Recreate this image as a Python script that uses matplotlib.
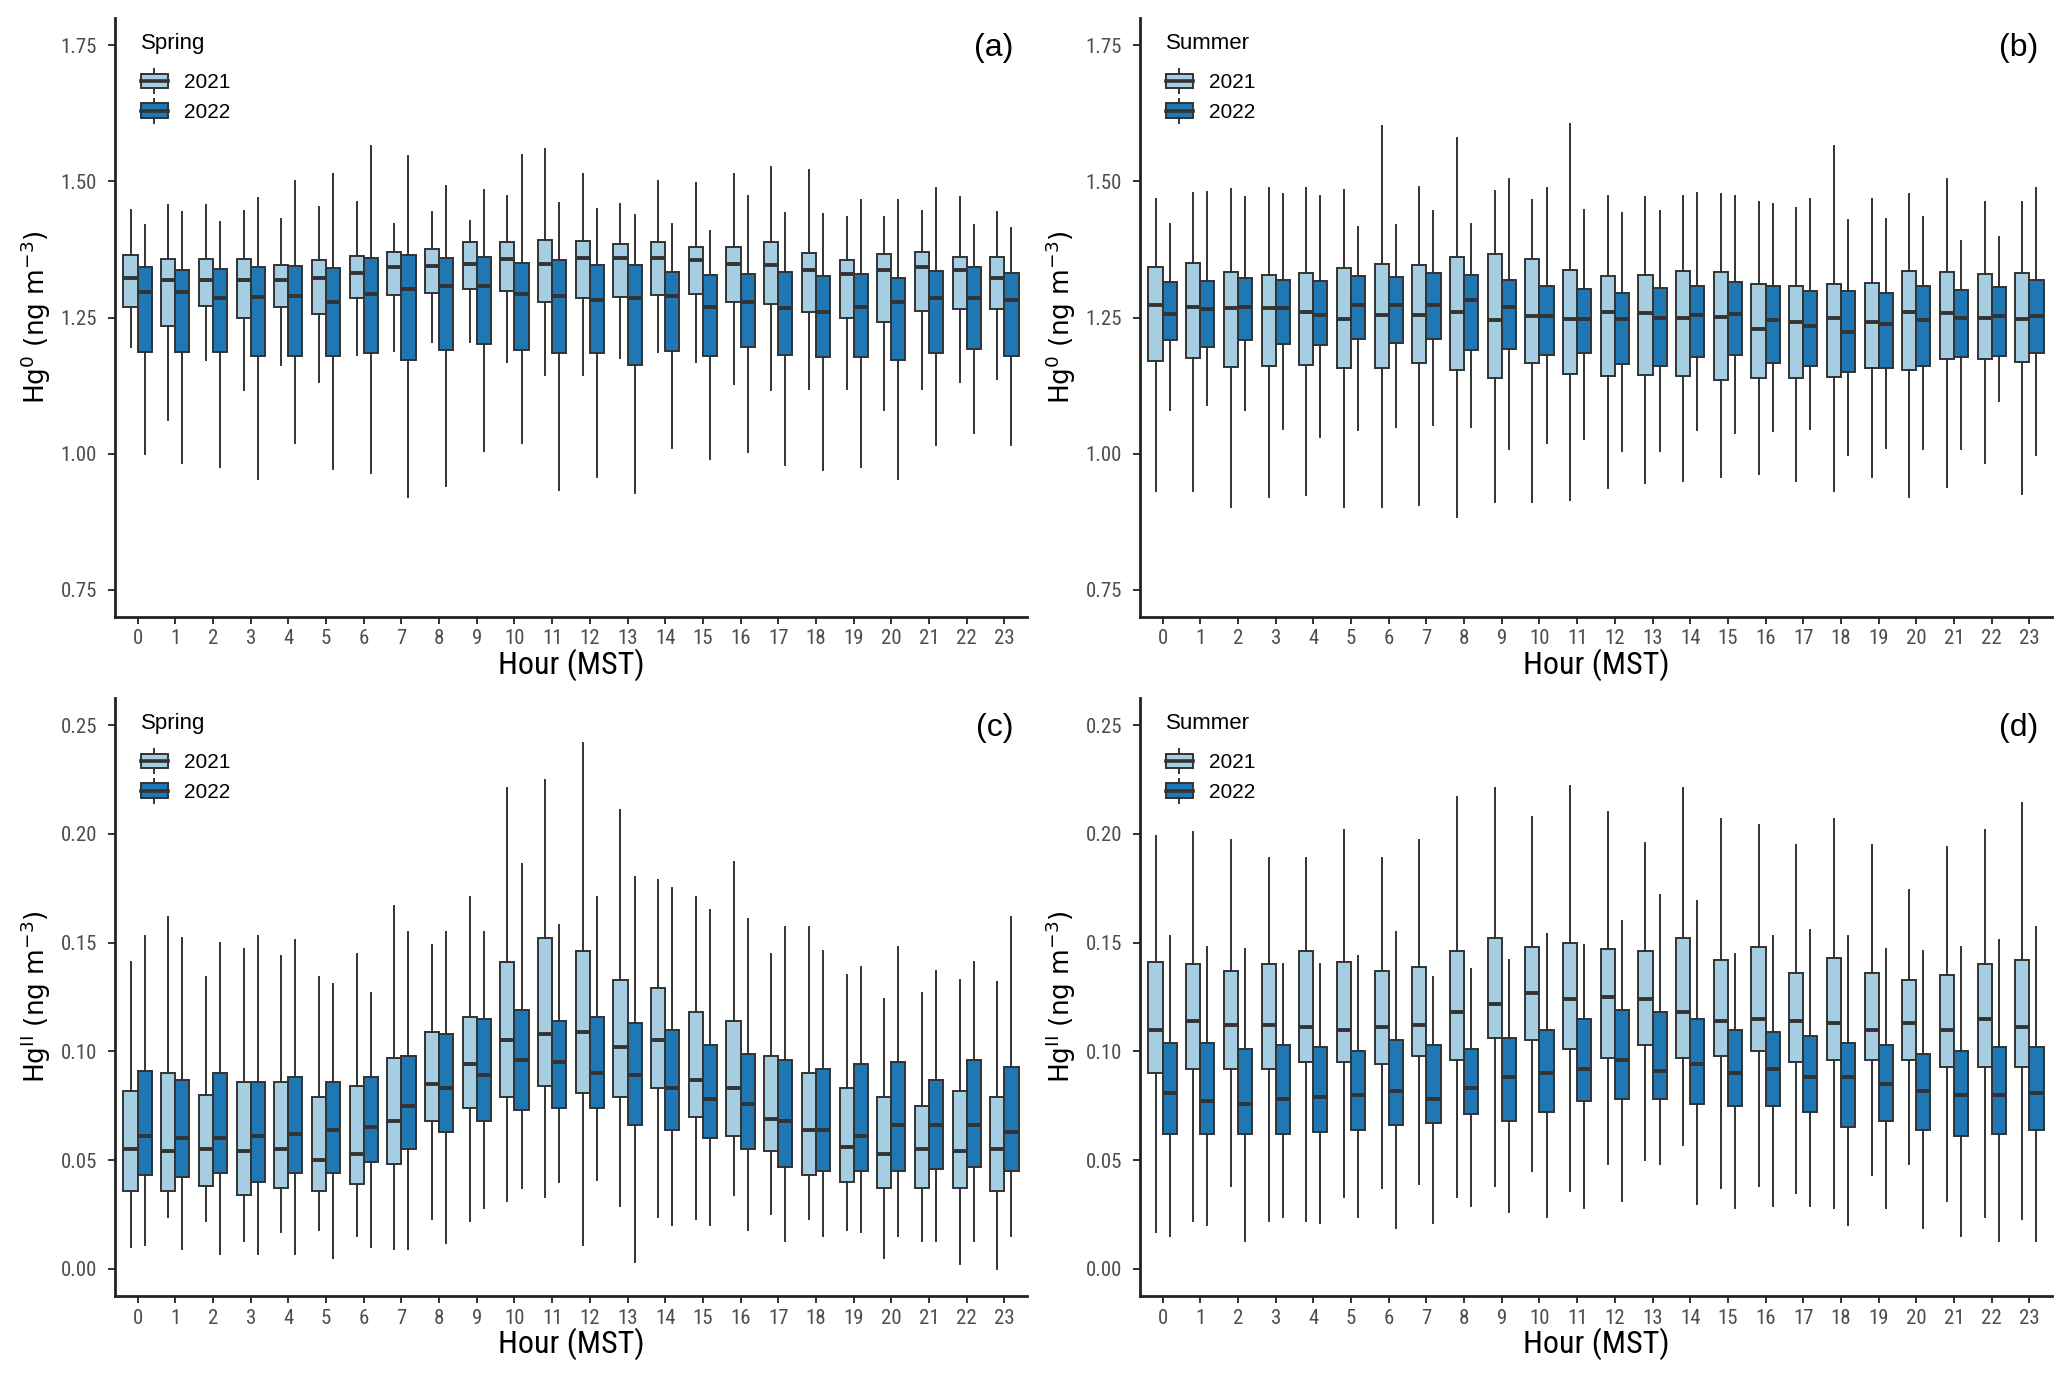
import numpy as np
import matplotlib
matplotlib.use("Agg")
import matplotlib.pyplot as plt
from matplotlib.patches import Rectangle, Patch
from matplotlib.lines import Line2D
from matplotlib.legend_handler import HandlerBase

plt.rcParams['font.family'] = ['Liberation Sans', 'DejaVu Sans']
plt.rcParams['mathtext.fontset'] = 'dejavusans'
plt.rcParams['mathtext.default'] = 'regular'

hours = list(range(24))
years = ['2021', '2022']

# each row: whisker low, q1, median, q3, whisker high
spring_hg0_2021 = [
    [1.195, 1.270, 1.323, 1.365, 1.448], [1.061, 1.235, 1.319, 1.357, 1.456],
    [1.172, 1.272, 1.319, 1.357, 1.457], [1.117, 1.250, 1.319, 1.357, 1.446],
    [1.163, 1.270, 1.319, 1.347, 1.430], [1.132, 1.256, 1.323, 1.355, 1.453],
    [1.182, 1.285, 1.331, 1.363, 1.462], [1.189, 1.292, 1.342, 1.370, 1.421],
    [1.205, 1.295, 1.345, 1.376, 1.443], [1.205, 1.302, 1.349, 1.389, 1.428],
    [1.169, 1.299, 1.357, 1.388, 1.474], [1.144, 1.278, 1.349, 1.393, 1.560],
    [1.144, 1.285, 1.359, 1.391, 1.513], [1.175, 1.288, 1.359, 1.385, 1.459],
    [1.187, 1.291, 1.359, 1.388, 1.500], [1.168, 1.294, 1.355, 1.380, 1.497],
    [1.128, 1.278, 1.349, 1.380, 1.514], [1.116, 1.274, 1.346, 1.388, 1.526],
    [1.118, 1.261, 1.338, 1.369, 1.521], [1.118, 1.250, 1.329, 1.355, 1.435],
    [1.080, 1.242, 1.337, 1.367, 1.435], [1.118, 1.262, 1.342, 1.370, 1.446],
    [1.132, 1.266, 1.338, 1.361, 1.472], [1.137, 1.266, 1.323, 1.361, 1.444],
]
spring_hg0_2022 = [
    [0.999, 1.187, 1.296, 1.342, 1.420], [0.983, 1.187, 1.296, 1.338, 1.444],
    [0.976, 1.187, 1.286, 1.339, 1.426], [0.953, 1.179, 1.288, 1.343, 1.470],
    [1.019, 1.179, 1.290, 1.345, 1.500], [0.972, 1.179, 1.279, 1.341, 1.514],
    [0.964, 1.185, 1.294, 1.359, 1.565], [0.921, 1.172, 1.303, 1.365, 1.546],
    [0.940, 1.190, 1.308, 1.360, 1.491], [1.004, 1.201, 1.308, 1.361, 1.485],
    [1.019, 1.191, 1.294, 1.351, 1.548], [0.934, 1.184, 1.290, 1.355, 1.461],
    [0.958, 1.184, 1.282, 1.346, 1.450], [0.927, 1.162, 1.286, 1.347, 1.438],
    [1.011, 1.188, 1.290, 1.333, 1.422], [0.991, 1.180, 1.270, 1.328, 1.408],
    [1.003, 1.195, 1.278, 1.330, 1.474], [0.980, 1.182, 1.268, 1.334, 1.442],
    [0.970, 1.177, 1.261, 1.327, 1.440], [0.976, 1.177, 1.270, 1.329, 1.465],
    [0.954, 1.172, 1.278, 1.323, 1.465], [1.015, 1.184, 1.286, 1.335, 1.487],
    [1.037, 1.192, 1.286, 1.343, 1.420], [1.015, 1.180, 1.282, 1.331, 1.414],
]
summer_hg0_2021 = [
    [0.931, 1.170, 1.273, 1.342, 1.468], [0.931, 1.176, 1.270, 1.350, 1.478],
    [0.902, 1.160, 1.267, 1.333, 1.486], [0.920, 1.161, 1.267, 1.328, 1.488],
    [0.924, 1.162, 1.261, 1.332, 1.488], [0.902, 1.158, 1.247, 1.341, 1.484],
    [0.902, 1.158, 1.255, 1.348, 1.602], [0.906, 1.166, 1.255, 1.346, 1.490],
    [0.884, 1.153, 1.261, 1.361, 1.580], [0.911, 1.139, 1.246, 1.366, 1.482],
    [0.911, 1.166, 1.253, 1.357, 1.466], [0.914, 1.146, 1.248, 1.338, 1.606],
    [0.937, 1.142, 1.261, 1.327, 1.474], [0.946, 1.145, 1.259, 1.328, 1.471],
    [0.950, 1.142, 1.250, 1.336, 1.473], [0.958, 1.135, 1.251, 1.334, 1.476],
    [0.963, 1.138, 1.229, 1.311, 1.462], [0.949, 1.138, 1.241, 1.307, 1.452],
    [0.931, 1.141, 1.249, 1.312, 1.565], [0.957, 1.157, 1.241, 1.314, 1.468],
    [0.920, 1.154, 1.261, 1.336, 1.476], [0.938, 1.173, 1.259, 1.334, 1.504],
    [0.983, 1.174, 1.250, 1.330, 1.462], [0.926, 1.168, 1.247, 1.332, 1.462],
]
summer_hg0_2022 = [
    [1.080, 1.209, 1.256, 1.316, 1.421], [1.089, 1.196, 1.265, 1.317, 1.480],
    [1.081, 1.209, 1.270, 1.322, 1.471], [1.046, 1.202, 1.267, 1.318, 1.477],
    [1.030, 1.199, 1.255, 1.317, 1.473], [1.044, 1.211, 1.273, 1.326, 1.416],
    [1.048, 1.203, 1.273, 1.324, 1.419], [1.052, 1.211, 1.273, 1.332, 1.446],
    [1.048, 1.190, 1.283, 1.328, 1.421], [1.008, 1.192, 1.270, 1.319, 1.504],
    [1.019, 1.182, 1.253, 1.308, 1.487], [1.026, 1.184, 1.247, 1.302, 1.447],
    [1.004, 1.164, 1.247, 1.295, 1.442], [1.004, 1.161, 1.250, 1.304, 1.445],
    [1.044, 1.177, 1.255, 1.307, 1.478], [1.038, 1.181, 1.256, 1.315, 1.473],
    [1.042, 1.166, 1.245, 1.307, 1.458], [1.046, 1.161, 1.234, 1.299, 1.468],
    [0.997, 1.150, 1.223, 1.299, 1.429], [1.011, 1.158, 1.238, 1.295, 1.431],
    [1.008, 1.161, 1.245, 1.307, 1.434], [1.008, 1.177, 1.249, 1.300, 1.391],
    [1.096, 1.180, 1.253, 1.306, 1.397], [0.997, 1.184, 1.253, 1.319, 1.488],
]
spring_hg2_2021 = [
    [0.010, 0.036, 0.055, 0.082, 0.141], [0.024, 0.036, 0.054, 0.090, 0.162],
    [0.022, 0.038, 0.055, 0.080, 0.134], [0.013, 0.034, 0.054, 0.086, 0.147],
    [0.017, 0.037, 0.055, 0.086, 0.144], [0.018, 0.036, 0.050, 0.079, 0.134],
    [0.015, 0.039, 0.053, 0.084, 0.145], [0.009, 0.048, 0.068, 0.097, 0.167],
    [0.023, 0.068, 0.085, 0.109, 0.149], [0.022, 0.074, 0.094, 0.116, 0.171],
    [0.031, 0.079, 0.105, 0.141, 0.221], [0.033, 0.084, 0.108, 0.152, 0.225],
    [0.011, 0.081, 0.109, 0.146, 0.242], [0.029, 0.079, 0.102, 0.133, 0.211],
    [0.024, 0.083, 0.105, 0.129, 0.179], [0.023, 0.070, 0.087, 0.118, 0.171],
    [0.034, 0.061, 0.083, 0.114, 0.187], [0.025, 0.054, 0.069, 0.098, 0.145],
    [0.023, 0.043, 0.064, 0.090, 0.157], [0.018, 0.040, 0.056, 0.083, 0.135],
    [0.005, 0.037, 0.053, 0.079, 0.124], [0.013, 0.037, 0.055, 0.075, 0.127],
    [0.002, 0.037, 0.054, 0.082, 0.133], [0.000, 0.036, 0.055, 0.079, 0.132],
]
spring_hg2_2022 = [
    [0.011, 0.043, 0.061, 0.091, 0.153], [0.009, 0.042, 0.060, 0.087, 0.152],
    [0.007, 0.044, 0.060, 0.090, 0.150], [0.007, 0.040, 0.061, 0.086, 0.153],
    [0.007, 0.044, 0.062, 0.088, 0.151], [0.005, 0.044, 0.064, 0.086, 0.131],
    [0.010, 0.049, 0.065, 0.088, 0.127], [0.009, 0.055, 0.075, 0.098, 0.155],
    [0.012, 0.063, 0.083, 0.108, 0.155], [0.028, 0.068, 0.089, 0.115, 0.155],
    [0.037, 0.073, 0.096, 0.119, 0.186], [0.040, 0.074, 0.095, 0.114, 0.158],
    [0.041, 0.074, 0.090, 0.116, 0.171], [0.003, 0.066, 0.089, 0.113, 0.180],
    [0.020, 0.064, 0.083, 0.110, 0.175], [0.020, 0.060, 0.078, 0.103, 0.165],
    [0.018, 0.055, 0.076, 0.099, 0.161], [0.013, 0.047, 0.068, 0.096, 0.157],
    [0.015, 0.045, 0.064, 0.092, 0.146], [0.017, 0.045, 0.061, 0.094, 0.139],
    [0.015, 0.045, 0.066, 0.095, 0.148], [0.013, 0.046, 0.066, 0.087, 0.137],
    [0.013, 0.047, 0.066, 0.096, 0.141], [0.015, 0.045, 0.063, 0.093, 0.162],
]
summer_hg2_2021 = [
    [0.017, 0.090, 0.110, 0.141, 0.199], [0.022, 0.092, 0.114, 0.140, 0.201],
    [0.038, 0.092, 0.112, 0.137, 0.197], [0.022, 0.092, 0.112, 0.140, 0.189],
    [0.022, 0.095, 0.111, 0.146, 0.189], [0.033, 0.095, 0.110, 0.141, 0.202],
    [0.037, 0.094, 0.111, 0.137, 0.189], [0.039, 0.098, 0.112, 0.139, 0.197],
    [0.033, 0.096, 0.118, 0.146, 0.217], [0.038, 0.106, 0.122, 0.152, 0.221],
    [0.045, 0.105, 0.127, 0.148, 0.208], [0.036, 0.101, 0.124, 0.150, 0.222],
    [0.048, 0.097, 0.125, 0.147, 0.210], [0.050, 0.103, 0.124, 0.146, 0.196],
    [0.057, 0.097, 0.118, 0.152, 0.221], [0.037, 0.098, 0.114, 0.142, 0.207],
    [0.038, 0.100, 0.115, 0.148, 0.204], [0.035, 0.095, 0.114, 0.136, 0.195],
    [0.028, 0.096, 0.113, 0.143, 0.207], [0.043, 0.096, 0.110, 0.136, 0.195],
    [0.048, 0.096, 0.113, 0.133, 0.174], [0.031, 0.093, 0.110, 0.135, 0.194],
    [0.024, 0.093, 0.115, 0.140, 0.202], [0.023, 0.093, 0.111, 0.142, 0.214],
]
summer_hg2_2022 = [
    [0.015, 0.062, 0.081, 0.104, 0.153], [0.020, 0.062, 0.077, 0.104, 0.148],
    [0.013, 0.062, 0.076, 0.101, 0.147], [0.024, 0.062, 0.078, 0.103, 0.140],
    [0.021, 0.063, 0.079, 0.102, 0.140], [0.024, 0.064, 0.080, 0.100, 0.144],
    [0.019, 0.066, 0.082, 0.105, 0.155], [0.021, 0.067, 0.078, 0.103, 0.134],
    [0.029, 0.071, 0.083, 0.101, 0.138], [0.026, 0.068, 0.088, 0.106, 0.142],
    [0.024, 0.072, 0.090, 0.110, 0.154], [0.028, 0.077, 0.092, 0.115, 0.149],
    [0.031, 0.078, 0.096, 0.119, 0.160], [0.048, 0.078, 0.091, 0.118, 0.172],
    [0.030, 0.076, 0.094, 0.115, 0.169], [0.028, 0.075, 0.090, 0.110, 0.145],
    [0.029, 0.075, 0.092, 0.109, 0.153], [0.029, 0.072, 0.088, 0.107, 0.156],
    [0.020, 0.065, 0.088, 0.104, 0.153], [0.028, 0.068, 0.085, 0.103, 0.147],
    [0.019, 0.064, 0.082, 0.099, 0.146], [0.015, 0.061, 0.080, 0.100, 0.148],
    [0.013, 0.062, 0.080, 0.102, 0.151], [0.013, 0.064, 0.081, 0.102, 0.157],
]

hg0_ticks = [0.75, 1.00, 1.25, 1.50, 1.75]
hg2_ticks = [0.00, 0.05, 0.10, 0.15, 0.20, 0.25]

C21 = '#a6cee3'
C22 = '#1f78b4'
EDGE = '#333333'
NARROW = ['Roboto Condensed', 'Liberation Sans']


class BoxKey(HandlerBase):
    # little ggplot-style boxplot glyph for the legend
    def create_artists(self, legend, orig_handle, xdescent, ydescent,
                       width, height, fontsize, trans):
        x0, y0 = -xdescent, -ydescent
        fc = orig_handle.get_facecolor()
        rect = Rectangle((x0, y0 + 0.1 * height), width, 0.8 * height,
                         facecolor=fc, edgecolor=EDGE, lw=1.4, transform=trans)
        mid = y0 + 0.5 * height
        med = Line2D([x0, x0 + width], [mid, mid], color=EDGE, lw=2.6, transform=trans)
        xc = x0 + width / 2
        wt = Line2D([xc, xc], [y0 + 0.9 * height, y0 + 1.15 * height], color=EDGE, lw=1.4, transform=trans)
        wb = Line2D([xc, xc], [y0 + 0.1 * height, y0 - 0.15 * height], color=EDGE, lw=1.4, transform=trans)
        return [rect, med, wt, wb]


def draw_panel(ax, d21, d22, ticks, ylab, season, tag):
    pos = np.array(hours, dtype=float)
    for rows, off, col in [(d21, -0.1875, C21), (d22, 0.1875, C22)]:
        stats = [dict(whislo=r[0], q1=r[1], med=r[2], q3=r[3], whishi=r[4]) for r in rows]
        ax.bxp(stats, positions=pos + off, widths=0.375, showfliers=False,
               showcaps=False, patch_artist=True, manage_ticks=False,
               boxprops=dict(facecolor=col, edgecolor=EDGE, lw=1.4),
               medianprops=dict(color=EDGE, lw=2.8, solid_capstyle='butt'),
               whiskerprops=dict(color=EDGE, lw=1.4))
    lo, hi = ticks[0], ticks[-1]
    pad = (hi - lo) * 0.05
    ax.set_ylim(lo - pad, hi + pad)
    ax.set_xlim(-0.6, 23.6)
    ax.set_yticks(ticks)
    ax.set_yticklabels(['%.2f' % t for t in ticks], family=NARROW)
    ax.set_xticks(hours)
    ax.set_xticklabels([str(h) for h in hours], family=NARROW)
    ax.tick_params(labelsize=15, colors='#333333', length=5, width=1.4, labelcolor='#4d4d4d')
    ax.tick_params(axis='y', pad=8)
    ax.tick_params(axis='x', pad=4)
    for s in ['top', 'right']:
        ax.spines[s].set_visible(False)
    for s in ['left', 'bottom']:
        ax.spines[s].set_linewidth(2.0)
        ax.spines[s].set_color('#222222')
    ax.set_xlabel('Hour (MST)', fontsize=23, family=NARROW)
    ax.set_ylabel(ylab, fontsize=19, family=['DejaVu Sans'])
    ax.yaxis.set_label_coords(-0.068, 0.5)
    ax.xaxis.set_label_coords(0.5, -0.052)
    handles = [Patch(facecolor=C21, label=years[0]), Patch(facecolor=C22, label=years[1])]
    leg = ax.legend(handles=handles, title=season, loc='upper left',
                    bbox_to_anchor=(0.012, 1.0), frameon=False, fontsize=15,
                    title_fontsize=16, handler_map={Patch: BoxKey()},
                    handlelength=1.3, handleheight=1.0, labelspacing=0.45,
                    handletextpad=0.8, borderaxespad=0.3)
    leg._legend_box.align = 'left'
    leg._legend_box.sep = 13
    ax.text(0.985, 0.975, tag, transform=ax.transAxes, ha='right', va='top', fontsize=23)


fig = plt.figure(figsize=(20.67, 13.74), dpi=100)
W, H = 2067.0, 1374.0
ax_a = fig.add_axes([115 / W, 1 - 617 / H, 912 / W, 599 / H])
ax_b = fig.add_axes([1140 / W, 1 - 617 / H, 912 / W, 599 / H])
ax_c = fig.add_axes([115 / W, 1 - 1296 / H, 912 / W, 598 / H])
ax_d = fig.add_axes([1140 / W, 1 - 1296 / H, 912 / W, 598 / H])

lab0 = r'Hg$^{0}$ (ng m$^{-3}$)'
lab2 = r'Hg$^{II}$ (ng m$^{-3}$)'
draw_panel(ax_a, spring_hg0_2021, spring_hg0_2022, hg0_ticks, lab0, 'Spring', '(a)')
draw_panel(ax_b, summer_hg0_2021, summer_hg0_2022, hg0_ticks, lab0, 'Summer', '(b)')
draw_panel(ax_c, spring_hg2_2021, spring_hg2_2022, hg2_ticks, lab2, 'Spring', '(c)')
draw_panel(ax_d, summer_hg2_2021, summer_hg2_2022, hg2_ticks, lab2, 'Summer', '(d)')

fig.savefig('out.png', dpi=100)
